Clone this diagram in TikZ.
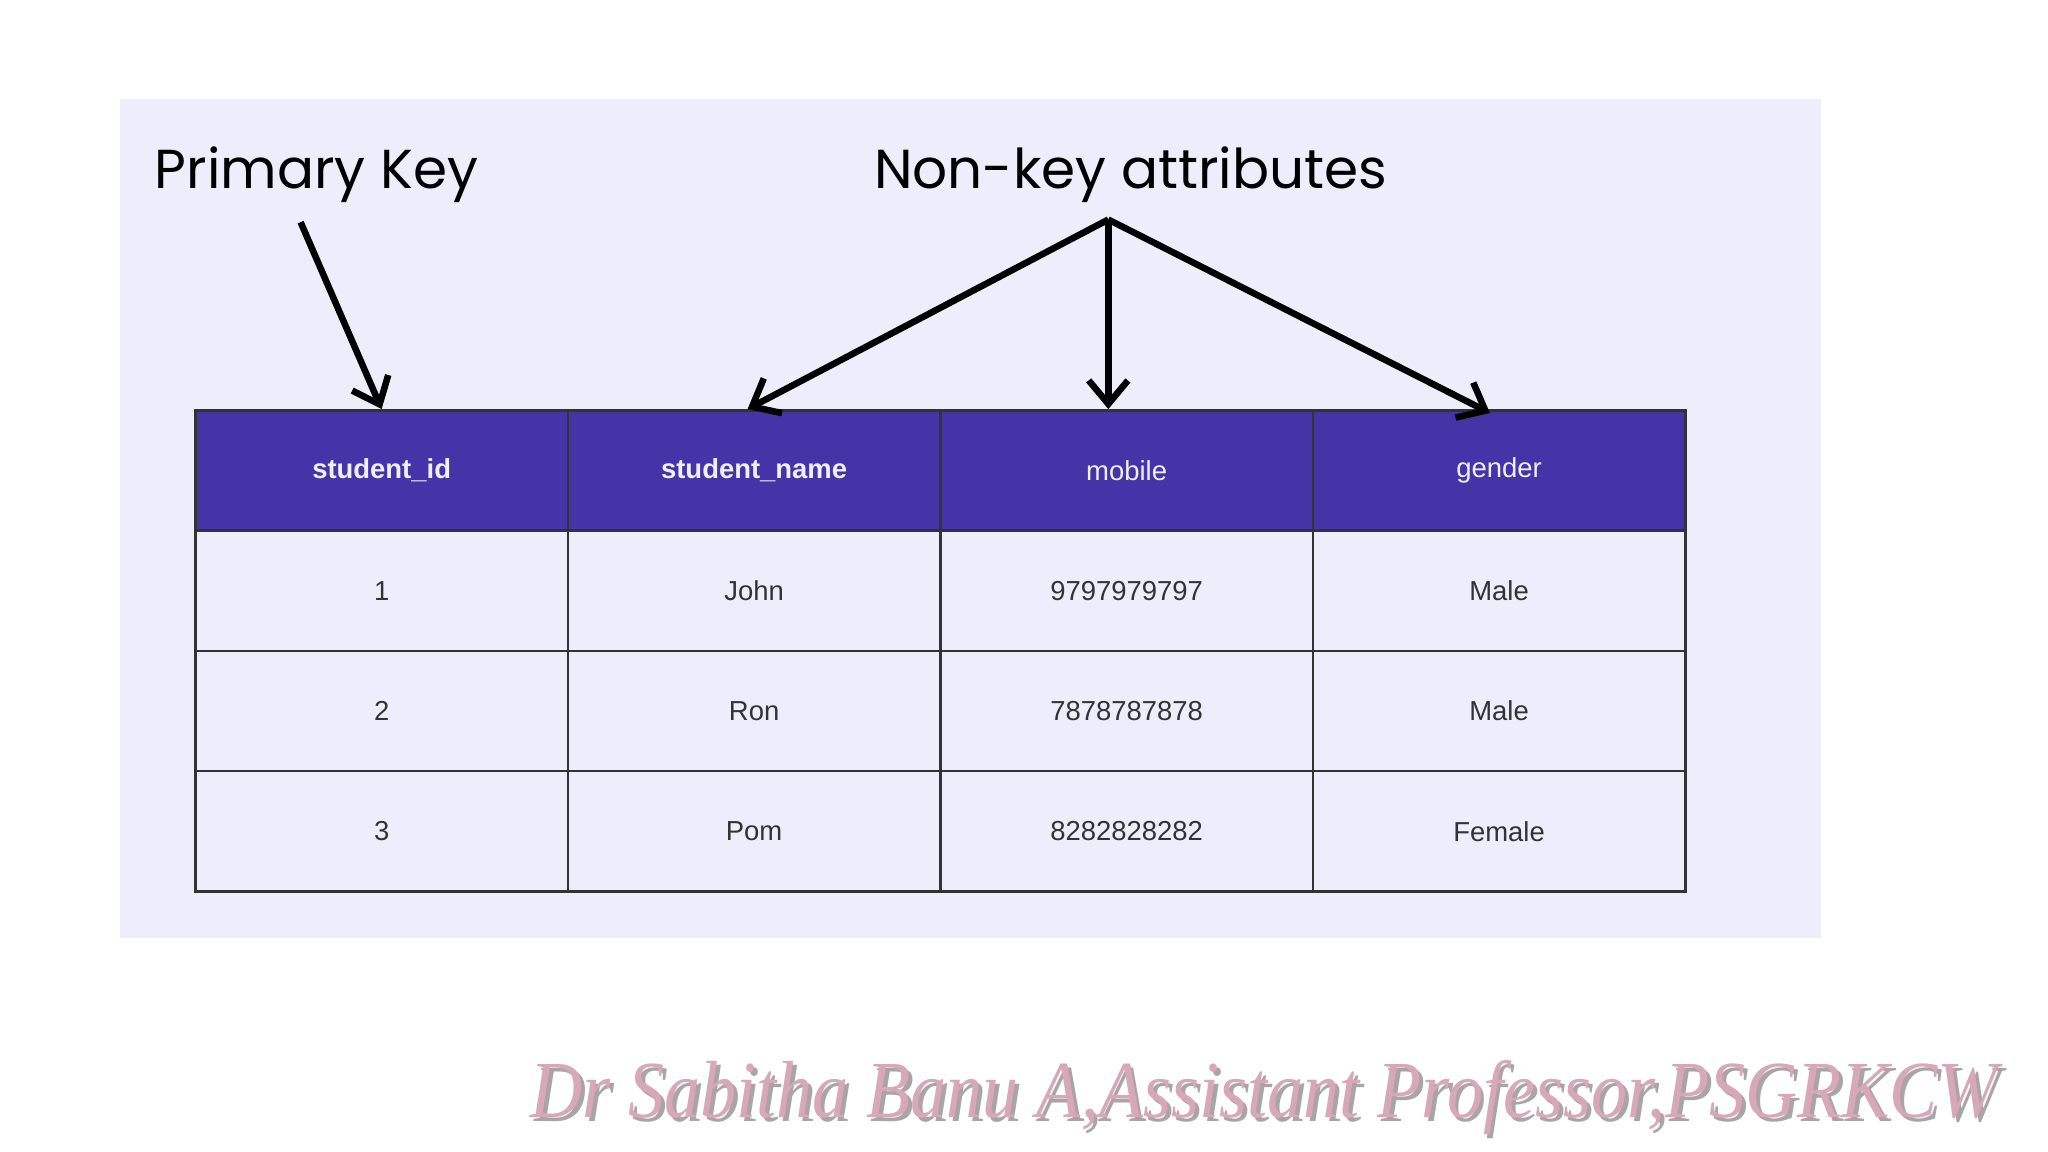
\documentclass[tikz,border=0pt]{standalone}
\usepackage{fontspec}
\setmainfont{Liberation Sans}
\newfontfamily\titlefont{Poppins}
\newfontfamily\wmfont{Liberation Serif}
\usetikzlibrary{arrows.meta}
\definecolor{bgc}{HTML}{EEEDFB}
\definecolor{hdr}{HTML}{4534A7}
\definecolor{wm}{HTML}{D8A8B8}
\definecolor{txt}{HTML}{333333}
\tikzset{
  cell/.style={draw=txt, line width=1pt, minimum width=142.5pt, minimum height=46pt, inner sep=0pt, font=\fontsize{10.5pt}{12pt}\selectfont, text=txt},
  head/.style={cell, fill=hdr, text=white!92!hdr},
  ttl/.style={font=\titlefont\fontsize{21pt}{24pt}\selectfont, inner sep=0pt},
  arr/.style={line width=2.5pt, -{Straight Barb[length=9pt,width=15pt,line width=2.5pt]}},
  wmark/.style={font=\wmfont\itshape\fontsize{31pt}{34pt}\selectfont, anchor=east, inner sep=0pt, xscale=0.89}
}
\begin{document}
\begin{tikzpicture}[x=0.5pt,y=-0.5pt]
\useasboundingbox (0,0) rectangle (1567,881.4);
\fill[white] (0,0) rectangle (1567,881.4);
\fill[bgc] (92,76) rectangle (1393,718);
% headers
\node[head,font=\bfseries\fontsize{10.5pt}{12pt}\selectfont] (h1) at (292,360) {student\_id};
\node[head,font=\bfseries\fontsize{10.5pt}{12pt}\selectfont] (h2) at (577,360) {student\_name};
\node[head] (h3) at (862,360) {mobile};
\node[head] (h4) at (1147,360) {gender};
% rows
\node[cell] (a1) at (292,452) {1};
\node[cell] (a2) at (577,452) {John};
\node[cell] (a3) at (862,452) {9797979797};
\node[cell] (a4) at (1147,452) {Male};
\node[cell] (b1) at (292,544) {2};
\node[cell] (b2) at (577,544) {Ron};
\node[cell] (b3) at (862,544) {7878787878};
\node[cell] (b4) at (1147,544) {Male};
\node[cell] (c1) at (292,636) {3};
\node[cell] (c2) at (577,636) {Pom};
\node[cell] (c3) at (862,636) {8282828282};
\node[cell] (c4) at (1147,636) {Female};
% titles
\node[ttl,anchor=west] (pk) at (118,134) {Primary Key};
\node[ttl] (nk) at (865,134) {Non-key attributes};
\coordinate (pks) at (230,170);
\coordinate (nks) at (848,168);
\coordinate (t1) at (292,313);
\coordinate (t2) at (572,313);
\coordinate (t3) at (848,313);
\coordinate (t4) at (1140,316);
\draw[arr] (pks) -- (t1);
\draw[arr] (nks) -- (t2);
\draw[arr] (nks) -- (t3);
\draw[arr] (nks) -- (t4);
% watermark
\node[wmark, text=black!35] (wms) at (1532,843) {Dr Sabitha Banu A,Assistant Professor,PSGRKCW};
\node[wmark, text=wm] (wmt) at (1529,840) {Dr Sabitha Banu A,Assistant Professor,PSGRKCW};
\end{tikzpicture}
\end{document}
